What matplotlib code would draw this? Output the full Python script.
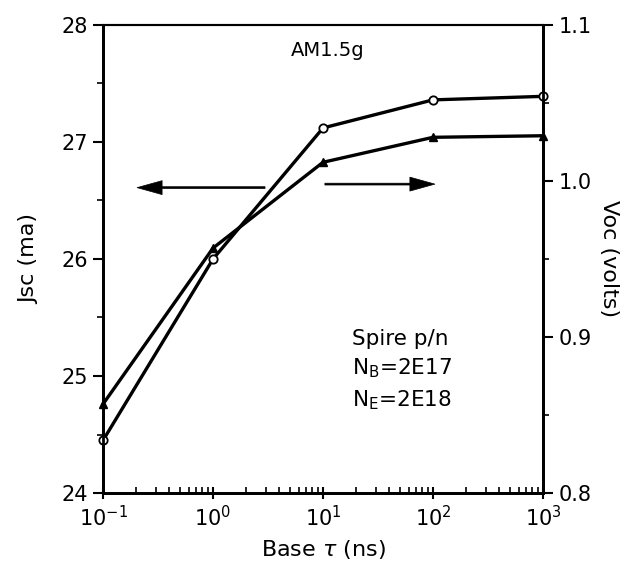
import numpy as np
import matplotlib
matplotlib.use("Agg")
import matplotlib.pyplot as plt
from matplotlib.ticker import FixedLocator, LogLocator, NullFormatter

# data
tau = [0.1, 1.0, 10.0, 100.0, 1000.0]
jsc = [24.45, 26.0, 27.12, 27.36, 27.39]      # open circles, left axis
voc = [0.857, 0.957, 1.012, 1.028, 1.029]     # filled triangles, right axis

jsc_ticks = [24, 25, 26, 27, 28]
voc_ticks = [0.8, 0.9, 1.0, 1.1]
voc_labels = ["0.8", "0.9", "1.0", "1.1"]

plt.rcParams['font.family'] = ['DejaVu Sans']

fig = plt.figure(figsize=(6.29, 5.73), dpi=100)
ax = fig.add_axes([0.1638, 0.1396, 0.6995, 0.8168])
ax2 = ax.twinx()

lw = 2.4
ax.plot(tau, jsc, color='black', lw=lw, marker='o', ms=6, mfc='white',
        mec='black', mew=1.3, clip_on=False, zorder=5)
ax2.plot(tau, voc, color='black', lw=lw, marker='^', ms=6, mfc='black',
         mec='black', clip_on=False, zorder=5)

ax.set_xscale('log')
ax.set_xlim(0.1, 1000)
ax.set_ylim(24, 28)
ax2.set_ylim(0.8, 1.1)

ax.set_xticks([0.1, 1, 10, 100, 1000])
ax.set_xticklabels([r'$10^{-1}$', r'$10^{0}$', r'$10^{1}$', r'$10^{2}$', r'$10^{3}$'])
ax.xaxis.set_minor_locator(LogLocator(base=10, subs=np.arange(2, 10), numticks=20))
ax.xaxis.set_minor_formatter(NullFormatter())

ax.set_yticks(jsc_ticks)
ax.set_yticklabels([str(t) for t in jsc_ticks])
ax.yaxis.set_minor_locator(FixedLocator([24.5, 25.5, 26.5, 27.5]))

ax2.set_yticks(voc_ticks)
ax2.set_yticklabels(voc_labels)
ax2.yaxis.set_minor_locator(FixedLocator([0.85, 0.95, 1.05]))

ax.tick_params(axis='x', which='major', direction='inout', length=9, width=1.5,
               labelsize=15, pad=4, top=False)
ax.tick_params(axis='x', which='minor', direction='in', length=4, width=1.2, top=False)
ax.tick_params(axis='y', which='major', direction='out', length=7, width=1.5,
               labelsize=15, pad=4)
ax.tick_params(axis='y', which='minor', direction='out', length=4, width=1.2)
ax2.tick_params(axis='y', which='major', direction='out', length=7, width=1.5,
                labelsize=15, pad=4)
ax2.tick_params(axis='y', which='minor', direction='out', length=4, width=1.2)

for s in ['left', 'bottom', 'right']:
    ax.spines[s].set_linewidth(2.0)
    ax2.spines[s].set_linewidth(2.0)
ax.spines['top'].set_linewidth(1.5)
ax2.spines['top'].set_linewidth(1.5)

ax.set_xlabel(r'Base $\tau$ (ns)', fontsize=16, labelpad=6)
ax.set_ylabel('Jsc (ma)', fontsize=16, labelpad=16)
ax2.set_ylabel('Voc (volts)', fontsize=16, rotation=-90, labelpad=20)

ax.text(0.51, 0.945, 'AM1.5g', transform=ax.transAxes, fontsize=14, ha='center', va='center')
ax.text(0.566, 0.262, 'Spire p/n\n$\\mathregular{N_B}$=2E17\n$\\mathregular{N_E}$=2E18',
        transform=ax.transAxes, fontsize=15.5, ha='left', va='center', linespacing=1.45)

arrow = dict(width=1.3, headwidth=10, headlength=18, facecolor='black',
             edgecolor='black', lw=0.5, shrink=0)
ax.annotate('', xy=(0.204, 26.61), xytext=(2.97, 26.61), arrowprops=arrow)
ax.annotate('', xy=(104, 26.64), xytext=(10.4, 26.64), arrowprops=arrow)

fig.savefig('out.png', dpi=100)
